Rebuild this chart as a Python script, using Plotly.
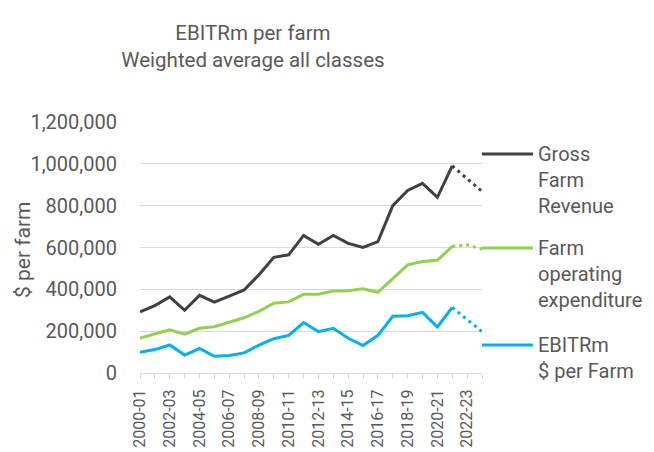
import plotly.graph_objects as go

categories = ["2000-01", "2001-02", "2002-03", "2003-04", "2004-05", "2005-06",
              "2006-07", "2007-08", "2008-09", "2009-10", "2010-11", "2011-12",
              "2012-13", "2013-14", "2014-15", "2015-16", "2016-17", "2017-18",
              "2018-19", "2019-20", "2020-21", "2021-22", "2022-23", "2023-24"]

# actuals (2000-01 to 2021-22)
gross_revenue = [292000, 322000, 364000, 300000, 371000, 339000, 368000, 397000,
                 470000, 553000, 565000, 658000, 615000, 658000, 620000, 600000,
                 628000, 800000, 873000, 907000, 840000, 990000]
operating_exp = [167000, 188000, 206000, 186000, 214000, 221000, 243000, 264000,
                 295000, 334000, 340000, 376000, 377000, 392000, 393000, 403000,
                 386000, 453000, 517000, 533000, 539000, 605000]
ebitrm = [99000, 112000, 134000, 86000, 117000, 80000, 84000, 96000,
          133000, 164000, 180000, 241000, 198000, 214000, 166000, 131000,
          180000, 271000, 274000, 290000, 220000, 313000]

# projections (2021-22 to 2023-24)
gross_revenue_proj = [990000, 930000, 868000]
operating_exp_proj = [605000, 613000, 592000]
ebitrm_proj = [313000, 255000, 198000]

series_names = ["Gross<br>Farm<br>Revenue",
                "Farm<br>operating<br>expenditure",
                "EBITRm<br>$ per Farm"]
colors = ["#404040", "#92D050", "#00B0F0"]

FONT = "Roboto"
GREY = "#595959"

x_all = list(range(len(categories)))
n_act = len(gross_revenue)
x_act = x_all[:n_act]
x_proj = x_all[n_act - 1:]

fig = go.Figure()
actuals = [gross_revenue, operating_exp, ebitrm]
projs = [gross_revenue_proj, operating_exp_proj, ebitrm_proj]
for name, col, a, p in zip(series_names, colors, actuals, projs):
    fig.add_trace(go.Scatter(x=x_act, y=a, mode="lines", name=name,
                             line=dict(color=col, width=3), showlegend=False))
    fig.add_trace(go.Scatter(x=x_proj, y=p, mode="lines", name=name + " (proj)",
                             line=dict(color=col, width=3, dash="3px,4px"),
                             showlegend=False))

# legend drawn manually (Excel-style right legend)
leg_y = [0.8725, 0.498, 0.1115]
for name, col, ly in zip(series_names, colors, leg_y):
    fig.add_shape(type="line", xref="paper", yref="paper",
                  x0=1.0, x1=1.149, y0=ly, y1=ly,
                  line=dict(color=col, width=3))
    fig.add_annotation(xref="paper", yref="paper", x=1.158, y=ly + 0.056,
                       text=name, showarrow=False, xanchor="left", yanchor="top",
                       align="left", font=dict(family=FONT, size=20, color=GREY))

fig.add_annotation(xref="paper", yref="paper", x=-0.342, y=0.49,
                   text="$ per farm", textangle=-90, showarrow=False,
                   xanchor="center", yanchor="middle",
                   font=dict(family=FONT, size=21, color=GREY))

fig.update_layout(
    width=654, height=452,
    margin=dict(l=132, r=180, t=114, b=87),
    paper_bgcolor="white", plot_bgcolor="white",
    title=dict(text="EBITRm per farm<br>Weighted average all classes",
               x=0.3746, xanchor="center", y=0.929, yanchor="middle",
               font=dict(family=FONT, size=20.5, color=GREY)),
    font=dict(family=FONT, color=GREY),
)
fig.update_xaxes(
    range=[0, len(categories) - 1],
    tickmode="array", tickvals=x_all[::2], ticktext=categories[::2],
    tickangle=-90, ticks="outside", ticklen=5, tickcolor="#D9D9D9",
    minor=dict(ticks="outside", ticklen=5, dtick=1, tick0=0, tickcolor="#D9D9D9"),
    showline=True, linecolor="#D9D9D9", linewidth=1,
    showgrid=False, zeroline=False, automargin=False,
    ticklabelstandoff=4,
    tickfont=dict(family=FONT, size=16, color=GREY),
)
fig.update_yaxes(
    range=[0, 1200000], dtick=200000, tickformat=",d",
    showgrid=True, gridcolor="#D9D9D9", gridwidth=1,
    zeroline=False, showline=False, ticks="", automargin=False,
    ticklabelstandoff=22,
    tickfont=dict(family=FONT, size=20, color=GREY),
)

fig.write_html("out.html")
